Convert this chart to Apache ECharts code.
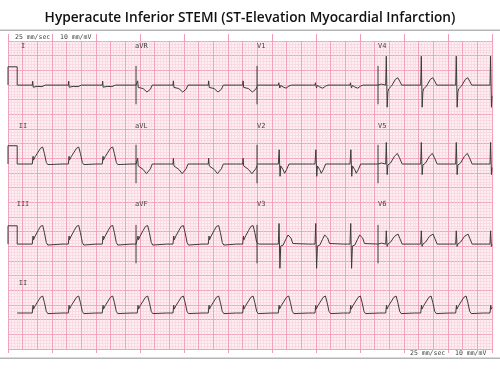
<!DOCTYPE html>
<html><head><meta charset="utf-8">
<script src="https://cdn.jsdelivr.net/npm/echarts@6/dist/echarts.min.js"></script>
<style>html,body{margin:0;padding:0;background:#fff}#c{width:500px;height:369px}</style>
</head><body><div id="c"></div>
<script>
// ---- data (time in s, amplitude in mV) ----
const beatTimes = [0.502,1.246,1.948,2.671,3.409,4.138,4.849,5.585,6.343,7.066,7.804,8.527,9.250,9.959];
const columnStarts = [0.19, 2.645, 5.145, 7.645];
const columnEnds   = [2.645, 5.145, 7.645, 10.0];
const rowBaselines = [13.71, 9.61, 5.45, 1.87];
const leadNames = [['I','aVR','V1','V4'],['II','aVL','V2','V5'],['III','aVF','V3','V6']];
const rhythmLead = 'II';
const rhythmStart = 0.19;
const calibrationMv = 0.95;
const calibrationEnd = 0.19;
const separatorMv = 1.0;
// paper: 33 x 21 large boxes over 10 s x 16 mV
const timeSpan = 10, ampSpan = 16, bigBoxesX = 33, bigBoxesY = 21;

// beat templates: [offset from QRS onset (s), mV]
const tplI   = [[-0.13,0],[-0.09,0.05],[-0.05,0],[0,0],[0.008,0.2],[0.018,-0.11],[0.03,-0.04],[0.1,-0.07],[0.2,-0.08],[0.27,0]];
const tplII  = [[-0.13,0],[-0.09,0.07],[-0.05,0],[0,0],[0.008,-0.06],[0.016,0.4],[0.024,0.2],[0.06,0.38],[0.12,0.62],[0.17,0.82],[0.2,0.9],[0.215,0.88],[0.25,0.55],[0.29,0.08],[0.32,-0.03],[0.36,0]];
const tplIII = [[-0.13,0],[-0.09,0.06],[-0.05,0],[0,0],[0.008,-0.06],[0.016,0.42],[0.024,0.22],[0.06,0.42],[0.12,0.7],[0.17,0.92],[0.2,1.0],[0.215,0.97],[0.25,0.6],[0.29,0.08],[0.32,-0.05],[0.36,0]];
const tplaVR = [[-0.13,0],[-0.09,-0.04],[-0.05,0],[0,0],[0.008,0.22],[0.02,-0.12],[0.035,-0.05],[0.12,-0.18],[0.2,-0.36],[0.235,-0.43],[0.27,-0.22],[0.31,0]];
const tplaVL = [[-0.13,0],[-0.09,-0.03],[-0.05,0],[0,0],[0.008,0.3],[0.02,-0.1],[0.035,-0.12],[0.12,-0.28],[0.19,-0.5],[0.23,-0.56],[0.27,-0.25],[0.31,0]];
const tplaVF = [[-0.13,0],[-0.09,0.06],[-0.05,0],[0,0],[0.008,-0.06],[0.016,0.42],[0.024,0.22],[0.06,0.42],[0.12,0.7],[0.17,0.92],[0.2,1.0],[0.215,0.96],[0.25,0.6],[0.29,0.08],[0.32,-0.05],[0.36,0]];
const tplV1  = [[-0.13,0],[-0.09,0.04],[-0.05,0],[0,0],[0.01,0.12],[0.03,-0.15],[0.05,-0.02],[0.1,-0.1],[0.16,-0.16],[0.22,-0.05],[0.27,0]];
const tplV2  = [[-0.13,0],[-0.09,0.05],[-0.05,0],[0,0],[0.01,0.1],[0.018,0.74],[0.036,-0.64],[0.05,-0.1],[0.07,-0.05],[0.1,-0.3],[0.13,-0.48],[0.17,-0.3],[0.22,0]];
const tplV3  = [[-0.13,0],[-0.09,0.05],[-0.05,0],[0,0],[0.015,1.07],[0.033,-1.26],[0.05,-0.1],[0.1,-0.05],[0.15,0.22],[0.2,0.47],[0.23,0.5],[0.26,0.32],[0.3,0.03],[0.34,0]];
const tplV4  = [[-0.13,0],[-0.09,0.05],[-0.05,0],[0,0],[0.012,1.5],[0.03,-1.15],[0.045,-0.35],[0.06,-0.2],[0.12,-0.05],[0.2,0.3],[0.25,0.38],[0.29,0.2],[0.33,0]];
const tplV5  = [[-0.13,0],[-0.09,0.05],[-0.05,0],[0,0],[0.012,1.12],[0.03,-0.55],[0.045,-0.05],[0.1,0.05],[0.18,0.4],[0.24,0.55],[0.28,0.35],[0.34,0]];
const tplV6  = [[-0.13,0],[-0.09,0.05],[-0.05,0],[0,0],[0.012,0.69],[0.028,-0.12],[0.045,0],[0.1,0.1],[0.18,0.4],[0.255,0.52],[0.29,0.3],[0.34,0]];
const templates = {I:tplI, II:tplII, III:tplIII, aVR:tplaVR, aVL:tplaVL, aVF:tplaVF, V1:tplV1, V2:tplV2, V3:tplV3, V4:tplV4, V5:tplV5, V6:tplV6};

const titleText = 'Hyperacute Inferior STEMI (ST-Elevation Myocardial Infarction)';
const speedText = '25 mm/sec';
const gainText = '10 mm/mV';
const labelRowsPx = [46, 126, 204, 283];
const labelColsPx = [23, 135, 257, 378];

// ---- build ----
function valueAt(tpl, t){
  for (const bt of beatTimes){
    const a = bt + tpl[0][0], b = bt + tpl[tpl.length-1][0];
    if (t >= a && t <= b){
      for (let i=0;i<tpl.length-1;i++){
        const t1 = bt+tpl[i][0], t2 = bt+tpl[i+1][0];
        if (t >= t1 && t <= t2){
          const f = t2===t1?0:(t-t1)/(t2-t1);
          return tpl[i][1] + f*(tpl[i+1][1]-tpl[i][1]);
        }
      }
    }
  }
  return 0;
}
function leadPoints(name, base, t0, t1){
  const tpl = templates[name];
  const pts = [[t0, valueAt(tpl,t0)]];
  beatTimes.forEach(bt => tpl.forEach(([dt,v]) => {
    const t = bt+dt; if (t>t0 && t<t1) pts.push([t,v]);
  }));
  pts.push([t1, valueAt(tpl,t1)]);
  return pts.map(([t,v]) => [t, base+v]);
}

const series = [];
const traceStyle = {color:'#3b3b3b', width:1};
leadNames.forEach((row, r) => {
  const base = rowBaselines[r];
  row.forEach((name, c) => {
    let data = leadPoints(name, base, columnStarts[c], columnEnds[c]);
    if (c === 0){
      data = [[0,base],[0,base+calibrationMv],[calibrationEnd,base+calibrationMv],[calibrationEnd,base]].concat(data);
    } else {
      series.push({type:'line', data:[[columnStarts[c], base+separatorMv],[columnStarts[c], base-separatorMv]],
        showSymbol:false, silent:true, lineStyle:traceStyle, animation:false});
    }
    series.push({type:'line', name, data, showSymbol:false, silent:true, lineStyle:traceStyle, animation:false});
  });
});
series.push({type:'line', name:'II rhythm', data:leadPoints(rhythmLead, rowBaselines[3], rhythmStart, timeSpan),
  showSymbol:false, silent:true, lineStyle:traceStyle, animation:false});

const minorCol = '#f9d0dc', majorCol = '#f3a3bb', tickCol = '#ee9db5';
const labelFont = {fontFamily:'DejaVu Sans Mono', fontSize:7, fill:'#444'};
const graphics = [
  {type:'rect', shape:{x:0,y:29.5,width:500,height:1.5}, style:{fill:'#b5b5b5'}},
  {type:'rect', shape:{x:0,y:357.5,width:500,height:1.5}, style:{fill:'#b5b5b5'}},
  {type:'text', left:15, top:34, style:Object.assign({text:speedText}, labelFont, {fontSize:6.5}), z:10},
  {type:'text', left:60, top:34, style:Object.assign({text:gainText}, labelFont, {fontSize:6.5}), z:10},
  {type:'text', left:410, top:350, style:Object.assign({text:speedText}, labelFont, {fontSize:6.5}), z:10},
  {type:'text', left:455, top:350, style:Object.assign({text:gainText}, labelFont, {fontSize:6.5}), z:10}
];
const allLabels = leadNames.concat([[rhythmLead]]);
allLabels.forEach((row, r) => row.forEach((name, c) => {
  const centered = c === 0;
  graphics.push({type:'text', x:labelColsPx[c], y:labelRowsPx[r], z:10,
    style:Object.assign({text:name, textAlign: centered?'center':'left', textVerticalAlign:'middle'}, labelFont)});
}));

const xMajor = timeSpan / bigBoxesX, yMajor = ampSpan / bigBoxesY;
const hidden = {axisLabel:{show:false}, axisLine:{show:false}};
const chart = echarts.init(document.getElementById('c'), null, {renderer:'canvas'});
chart.setOption({
  animation:false,
  backgroundColor:'#ffffff',
  title:{text:titleText, left:'center', top:6, textStyle:{fontFamily:'Open Sans', fontWeight:600, fontSize:13.7, color:'#111'}},
  grid:{left:8, top:41, width:484, height:308, show:true, backgroundColor:'#fdeef3', borderWidth:0},
  xAxis:[
    Object.assign({type:'value', min:0, max:timeSpan, interval:xMajor, axisTick:{show:false},
      splitLine:{show:true, lineStyle:{color:majorCol, width:1}},
      minorTick:{show:false, splitNumber:5}, minorSplitLine:{show:true, lineStyle:{color:minorCol, width:0.6}}}, hidden),
    Object.assign({type:'value', position:'top', min:0, max:timeSpan, interval:xMajor*3, splitLine:{show:false},
      axisTick:{show:true, inside:false, length:7, lineStyle:{color:tickCol}}}, hidden),
    Object.assign({type:'value', position:'bottom', offset:0, min:0, max:timeSpan, interval:xMajor*3, splitLine:{show:false},
      axisTick:{show:true, inside:false, length:4, lineStyle:{color:tickCol}}}, hidden)
  ],
  yAxis:Object.assign({type:'value', min:0, max:ampSpan, interval:yMajor, axisTick:{show:false},
    splitLine:{show:true, lineStyle:{color:majorCol, width:1}},
    minorTick:{show:false, splitNumber:5}, minorSplitLine:{show:true, lineStyle:{color:minorCol, width:0.6}}}, hidden),
  graphic:graphics,
  series
});
</script></body></html>
